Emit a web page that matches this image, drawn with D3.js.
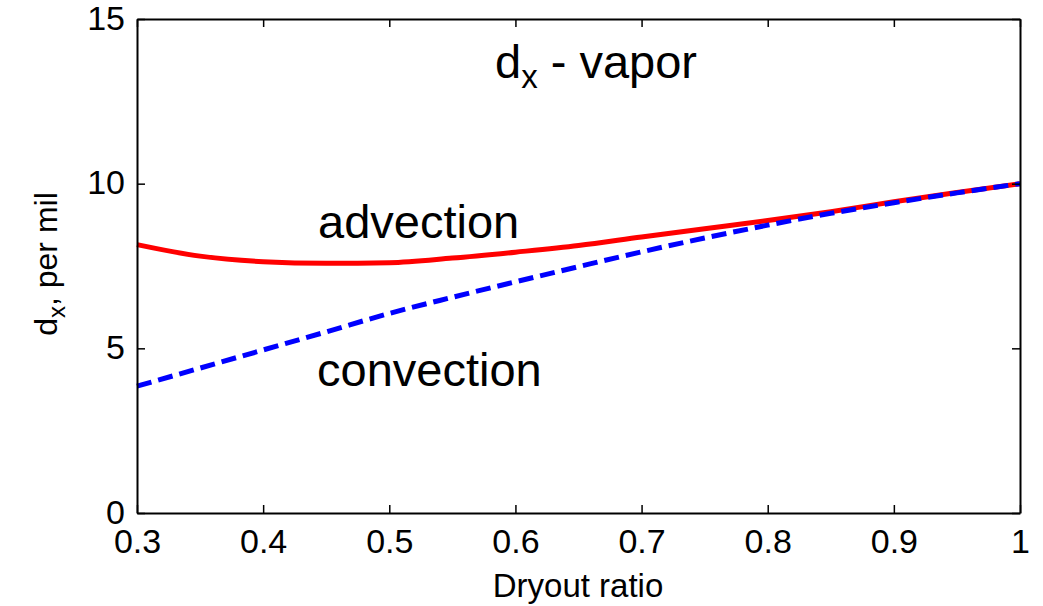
<!DOCTYPE html>
<html><head><meta charset="utf-8">
<script src="https://cdn.jsdelivr.net/npm/d3@7"></script>
<style>body{margin:0;background:#fff}svg{display:block}text{font-family:"Liberation Sans",Arial,sans-serif;fill:#000}</style>
</head><body><svg id="c" width="1043" height="606"></svg>
<script>
const xValues = [0.30,0.35,0.40,0.45,0.50,0.55,0.60,0.65,0.70,0.75,0.80,0.85,0.90,0.95,1.00];
const advection = [8.15,7.80,7.63,7.58,7.60,7.74,7.92,8.12,8.38,8.63,8.88,9.15,9.45,9.73,10.0];
const convection = [3.85,4.40,4.95,5.50,6.06,6.55,7.02,7.48,7.93,8.35,8.74,9.10,9.42,9.72,10.0];
const xTicks = [0.3,0.4,0.5,0.6,0.7,0.8,0.9,1];
const yTicks = [0,5,10,15];

const svg = d3.select("#c");
const L=137,R=1020,T=19,B=513;
const x = d3.scaleLinear().domain([0.3,1]).range([L,R]);
const y = d3.scaleLinear().domain([0,15]).range([B,T]);

// lines
const line = d3.line().x((d,i)=>x(xValues[i])).y(d=>y(d)).curve(d3.curveMonotoneX);
svg.append("path").datum(advection).attr("d",line).attr("fill","none").attr("stroke","#ff0000").attr("stroke-width",5);
svg.append("path").datum(convection).attr("d",line).attr("fill","none").attr("stroke","#0000ff").attr("stroke-width",5).attr("stroke-dasharray","15,7");

// axes
const tl=8;
const bx=svg.append("g").attr("transform",`translate(0,${B})`).call(d3.axisBottom(x).tickValues(xTicks).tickFormat(d=>d===1?"1":d3.format(".1f")(d)).tickSizeInner(-tl).tickSizeOuter(0).tickPadding(16));
const tx=svg.append("g").attr("transform",`translate(0,${T})`).call(d3.axisTop(x).tickValues(xTicks).tickFormat("").tickSizeInner(-tl).tickSizeOuter(0));
const ly=svg.append("g").attr("transform",`translate(${L},0)`).call(d3.axisLeft(y).tickValues(yTicks).tickSizeInner(-tl).tickSizeOuter(0).tickPadding(12));
const ry=svg.append("g").attr("transform",`translate(${R},0)`).call(d3.axisRight(y).tickValues(yTicks).tickFormat("").tickSizeInner(-tl).tickSizeOuter(0));
[bx,tx,ly,ry].forEach(g=>{g.attr("font-size",null).attr("font-family",null);g.selectAll("path.domain").attr("stroke","#000").attr("stroke-width",2);g.selectAll("line").attr("stroke","#000").attr("stroke-width",1.5);g.selectAll("text").style("font-size","34px").attr("fill","#000");});
ly.selectAll("text").attr("dy","0.3em");

// texts
const title=svg.append("text").attr("x",495).attr("y",78).style("font-size","47px");
title.append("tspan").text("d");
title.append("tspan").attr("dy",10).style("font-size","33px").text("x");
title.append("tspan").attr("dy",-10).text(" - vapor");
svg.append("text").attr("x",318).attr("y",238).style("font-size","47px").text("advection");
svg.append("text").attr("x",317).attr("y",386).style("font-size","47px").text("convection");
svg.append("text").attr("x",578).attr("y",597).attr("text-anchor","middle").style("font-size","33px").text("Dryout ratio");
const yl=svg.append("text").attr("transform","translate(57,264) rotate(-90)").attr("text-anchor","middle").style("font-size","32px");
yl.append("tspan").text("d");
yl.append("tspan").attr("dy",8).style("font-size","24px").text("x");
yl.append("tspan").attr("dy",-8).text(", per mil");
</script></body></html>
